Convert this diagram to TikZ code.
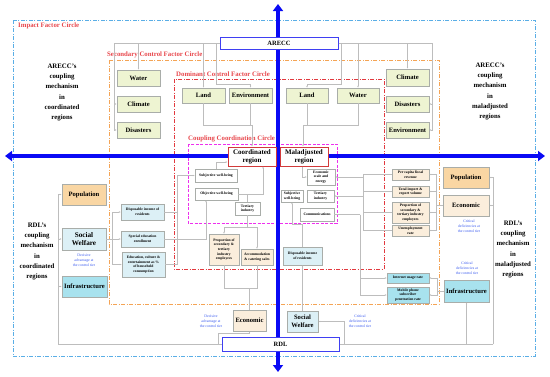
\documentclass[tikz,border=0pt]{standalone}
\usepackage{fontspec}
\setmainfont{Liberation Serif}
\usepackage{tikz}
\usetikzlibrary{arrows.meta}
\definecolor{AxisBlue}{HTML}{0A0AF5}
\definecolor{HubBlue}{HTML}{3F3FF2}
\definecolor{RegionRed}{HTML}{D23A3A}
\definecolor{LabelRed}{HTML}{E8474C}
\definecolor{ImpactBlue}{HTML}{5AAEE6}
\definecolor{SecOrange}{HTML}{F4A455}
\definecolor{DomRed}{HTML}{E23A3F}
\definecolor{CoupMagenta}{HTML}{EE30EE}
\definecolor{LineGray}{HTML}{BDBDBD}
\definecolor{BoxLine}{HTML}{A9ADA9}
\definecolor{Leaf}{HTML}{EEF4D2}
\definecolor{Peach}{HTML}{F9D6A3}
\definecolor{Cream}{HTML}{FBEEDC}
\definecolor{Mist}{HTML}{DCF0F6}
\definecolor{Aqua}{HTML}{A8E2EE}
\definecolor{NoteBlue}{HTML}{3A5BF0}

\begin{document}
\begin{tikzpicture}[x=1pt, y=-1pt,
    fbox/.style={draw=BoxLine, line width=0.6pt, align=center, inner sep=0.5pt, font=\bfseries\fontsize{6.6}{7.6}\selectfont},
    ind/.style={draw=BoxLine, line width=0.5pt, align=center, inner sep=0.3pt, fill=white, font=\bfseries\fontsize{3.7}{4.6}\selectfont},
    sz/.style 2 args={minimum width=#1pt, minimum height=#2pt},
    hub/.style={draw=HubBlue, line width=1pt, fill=white, inner sep=0pt, font=\bfseries\fontsize{6.5}{7}\selectfont},
    region/.style={draw=RegionRed, line width=1pt, fill=white, align=center, inner sep=0pt, font=\bfseries\fontsize{7}{8.2}\selectfont},
    side/.style={align=center, font=\bfseries\fontsize{6.8}{10.3}\selectfont},
    note/.style={align=center, text=NoteBlue, font=\fontsize{3.8}{5.2}\selectfont},
    circ/.style={anchor=west, inner sep=0pt, text=LabelRed, font=\bfseries\fontsize{6.8}{7}\selectfont},
    ring/.style={line width=0.8pt, dash pattern=on 4pt off 1.5pt on 1pt off 1.5pt},
    ln/.style={draw=LineGray, line width=0.7pt, -{Latex[length=1.8pt,width=1.6pt]}},
    lnp/.style={draw=LineGray, line width=0.7pt},
    mainaxis/.style={draw=AxisBlue, line width=4pt, {Triangle[length=7pt,width=10pt]}-{Triangle[length=7pt,width=10pt]}}
  ]
  \fill[white] (0,0) rectangle (550,376);
  \useasboundingbox (0,0) rectangle (550,376);

  % circles
  \draw[ring, ImpactBlue] (13,20) rectangle (535,356);
  \draw[ring, SecOrange] (109,60) rectangle (439,304);
  \draw[ring, DomRed, line width=1pt] (174,79) rectangle (384,269);
  \draw[CoupMagenta, line width=1pt, dash pattern=on 3pt off 1.5pt] (188,144) rectangle (337,223);
  \node[circ] (lbImpact) at (18,25.5) {Impact Factor Circle};
  \node[circ] (lbSecondary) at (107,55) {Secondary Control Factor Circle};
  \node[circ] (lbDominant) at (176,74) {Dominant Control Factor Circle};
  \node[circ] (lbCoupling) at (188,138.5) {Coupling Coordination Circle};

  % axes
  \coordinate (xW) at (5,156);
  \coordinate (xE) at (545,156);
  \coordinate (yN) at (278,4);
  \coordinate (yS) at (278,372);
  \draw[mainaxis] (xW) -- (xE);
  \draw[mainaxis] (yN) -- (yS);

  % hubs and regions
  \node[hub, sz={118}{12}] (arecc) at (279,43) {ARECC};
  \node[hub, sz={117}{14}] (rdl) at (280.5,344) {RDL};
  \node[region, sz={48}{19}] (coord) at (252,156.5) {Coordinated\\region};
  \node[region, sz={48}{19}] (mal) at (304,156.5) {Maladjusted\\region};

  % ARECC factors
  \node[fbox, fill=Leaf, sz={43}{16}] (waterL) at (138.5,78) {Water};
  \node[fbox, fill=Leaf, sz={43}{16}] (climateL) at (138.5,104) {Climate};
  \node[fbox, fill=Leaf, sz={43}{16}] (disastersL) at (138.5,130) {Disasters};
  \node[fbox, fill=Leaf, sz={43}{15}] (landL) at (203.5,95.5) {Land};
  \node[fbox, fill=Leaf, sz={43}{15}] (envL) at (250.5,95.5) {Environment};
  \node[fbox, fill=Leaf, sz={42}{15}] (landR) at (307,95.5) {Land};
  \node[fbox, fill=Leaf, sz={42}{15}] (waterR) at (358,95.5) {Water};
  \node[fbox, fill=Leaf, sz={43}{17}] (climateR) at (407.5,77.5) {Climate};
  \node[fbox, fill=Leaf, sz={43}{16}] (disastersR) at (407.5,104) {Disasters};
  \node[fbox, fill=Leaf, sz={43}{16}] (envR) at (407.5,130) {Environment};

  % RDL factors
  \node[fbox, fill=Peach, sz={44}{21}] (popL) at (84,194.5) {Population};
  \node[fbox, fill=Mist, sz={44}{22}, font=\bfseries\fontsize{7.2}{8.6}\selectfont] (socL) at (84,239) {Social\\Welfare};
  \node[fbox, fill=Aqua, sz={45}{21}] (infL) at (84.5,286.5) {Infrastructure};
  \node[fbox, fill=Cream, sz={33}{21}] (econL) at (249.5,320.5) {Economic};
  \node[fbox, fill=Mist, sz={31}{21}] (socR) at (302.5,321.5) {Social\\Welfare};
  \node[fbox, fill=Peach, sz={46}{21}] (popR) at (466,177.5) {Population};
  \node[fbox, fill=Cream, sz={46}{21}] (econR) at (466,205.5) {Economic};
  \node[fbox, fill=Aqua, sz={45}{22}] (infR) at (466.5,291) {Infrastructure};

  % indicators, coordinated side
  \node[ind, fill=Mist, sz={43}{16}] (dispL) at (142.5,212) {Disposable income of\\residents};
  \node[ind, fill=Mist, sz={43}{16}] (eduEnrL) at (142.5,239) {Special education\\enrollment};
  \node[ind, fill=Mist, sz={43}{25}] (eduConsL) at (143.5,264.5) {Education, culture \&\\entertainment as \%\\of household\\consumption};
  \node[ind, sz={42}{13}] (subjL) at (216,175.5) {Subjective well-being};
  \node[ind, sz={43}{12}] (objL) at (216.5,194) {Objective well-being};
  \node[ind, sz={25}{13}] (tertL) at (247.5,208.5) {Tertiary\\industry};
  \node[ind, fill=Cream, sz={30}{31}] (propL) at (224,249.5) {Proportion of\\secondary \&\\tertiary\\industry\\employees};
  \node[ind, fill=Cream, sz={32}{16}] (accL) at (257,257) {Accommodation\\\& catering sales};

  % indicators, maladjusted side
  \node[ind, sz={28}{16}] (econScaleR) at (321,177) {Economic\\scale and\\energy};
  \node[ind, sz={22}{12}] (subjR) at (292,196) {Subjective\\well-being};
  \node[ind, sz={27}{12}] (tertR) at (320.5,196) {Tertiary\\industry};
  \node[ind, sz={34}{13}] (commR) at (317,214.5) {Communications};
  \node[ind, fill=Mist, sz={39}{18}] (dispR) at (302.5,256) {Disposable income\\of residents};
  \node[ind, fill=Cream, sz={37}{11}] (fiscR) at (410.5,174.5) {Per capita fiscal\\revenue};
  \node[ind, fill=Cream, sz={37}{11}] (tradeR) at (410.5,191.5) {Total import \&\\export volume};
  \node[ind, fill=Cream, sz={37}{21}] (propR) at (410.5,212.5) {Proportion of\\secondary \&\\tertiary industry\\employees};
  \node[ind, fill=Cream, sz={37}{11}] (unempR) at (410.5,230.5) {Unemployment\\rate};
  \node[ind, fill=Aqua, sz={42}{10}] (netR) at (408,278) {Internet usage rate};
  \node[ind, fill=Aqua, sz={42}{16}] (mobR) at (408,295) {Mobile phone\\subscriber\\penetration rate};

  % side texts and notes
  \node[side] (txtAL) at (62,92.5) {ARECC's\\coupling\\mechanism\\in\\coordinated\\regions};
  \node[side] (txtAR) at (490,91.5) {ARECC's\\coupling\\mechanism\\in\\maladjusted\\regions};
  \node[side] (txtRL) at (37,251.5) {RDL's\\coupling\\mechanism\\in\\coordinated\\regions};
  \node[side] (txtRR) at (513,249.5) {RDL's\\coupling\\mechanism\\in\\maladjusted\\regions};
  \node[note] (ntL) at (84,260) {Decisive\\advantage at\\the control tier};
  \node[note] (ntE) at (211,321) {Decisive\\advantage at\\the control tier};
  \node[note] (ntS) at (360,321) {Critical\\deficiencies at\\the control tier};
  \node[note] (ntR1) at (469,226) {Critical\\deficiencies at\\the control tier};
  \node[note] (ntR2) at (467,268) {Critical\\deficiencies at\\the control tier};

  % ARECC links
  \coordinate (lbus) at (114,43);
  \coordinate (rbus) at (432,43);
  \coordinate (cjL) at (252,125);
  \coordinate (cjR) at (303,125);
  \draw[ln] (arecc.west) -| (waterL.north);
  \draw[ln] (arecc.west) -- (lbus) |- (climateL.west);
  \draw[ln] (lbus) |- (disastersL.west);
  \draw[ln] (arecc.west) -| (landL.north);
  \draw[ln] ([xshift=-3pt]arecc.west) |- ([yshift=3pt]envL.north) -- (envL.north);
  \draw[ln] (arecc.east) -| (climateR.north);
  \draw[ln] (arecc.east) -- (rbus) |- (disastersR.east);
  \draw[ln] (rbus) |- (envR.east);
  \draw[ln] (arecc.east) -| (waterR.north);
  \draw[ln] ([xshift=3pt]arecc.east) |- ([yshift=3pt]landR.north) -- (landR.north);
  \draw[ln] (landL.south) |- (cjL) -- (coord.north);
  \draw[lnp] (envL.south) -- (envL.south |- cjL);
  \draw[ln] (waterR.south) |- (cjR) -- (cjR |- mal.north);
  \draw[lnp] (landR.south) -- (landR.south |- cjR);

  % RDL links, coordinated side
  \coordinate (lrail) at (58,344);
  \coordinate (sbus) at (112,239);
  \coordinate (dj) at (177,212);
  \coordinate (tj) at (247.5,227);
  \coordinate (ej) at (249.5,288);
  \draw[lnp] (rdl.west) -- (lrail);
  \draw[ln] (lrail) |- (popL.west);
  \draw[ln] (lrail) |- (socL.west);
  \draw[ln] (lrail) |- (infL.west);
  \draw[ln] ([xshift=-3pt]rdl.west) |- ([yshift=-2pt]econL.south) -- (econL.south);
  \draw[lnp] (socL.east) -- (sbus);
  \draw[ln] (sbus) |- (dispL.west);
  \draw[ln] (sbus) -- (eduEnrL.west);
  \draw[ln] (sbus) |- (eduConsL.west);
  \draw[ln] (dispL.east) -- (dj) |- (subjL.west);
  \draw[lnp] (eduConsL.east) -| (dj);
  \draw[ln] (eduEnrL.east) -| ([xshift=-10.5pt]objL.south);
  \draw[ln] (subjL.north) |- ([yshift=-5.5pt]coord.west);
  \draw[ln] (objL.east) -| ([xshift=11pt]coord.south);
  \draw[lnp] (tertL.north) -- (tertL.north |- objL.east);
  \draw[lnp] (tertL.south) -- (tj);
  \draw[ln] (tj) -| (propL.north);
  \draw[ln] (tj) -| (accL.north);
  \draw[lnp] (propL.south) |- (ej);
  \draw[lnp] (accL.south) |- (ej);
  \draw[lnp] (econL.north) -- (ej);

  % RDL links, maladjusted side
  \coordinate (rrail) at (493,344);
  \coordinate (sj) at (302.5,224);
  \coordinate (ebus) at (436,205.5);
  \coordinate (ib) at (363,177);
  \coordinate (cb) at (360,214.5);
  \coordinate (nb) at (437,291);
  \draw[lnp] (rdl.east) -- (rrail);
  \draw[ln] (rrail) |- (popR.east);
  \draw[ln] (rrail) |- (econR.east);
  \draw[ln] (infR.south |- rrail) -- (infR.south);
  \draw[ln] ([xshift=5pt]rdl.east) |- (socR.east);
  \draw[ln] (socR.north) -- (dispR.south);
  \draw[ln] (dispR.north) -- (sj) -| (subjR.south);
  \draw[ln] ([xshift=-2pt]mal.south) |- (econScaleR.west);
  \draw[lnp] (econR.west) -- (ebus);
  \draw[ln] (ebus) |- (fiscR.east);
  \draw[ln] (ebus) |- (tradeR.east);
  \draw[ln] (ebus) |- (propR.east);
  \draw[ln] (ebus) |- (unempR.east);
  \draw[ln] (fiscR.west) -| (ib) -- (econScaleR.east);
  \draw[lnp] (tradeR.west) -| (ib);
  \draw[lnp] (propR.west) -| (ib);
  \draw[lnp] (unempR.west) -| (ib);
  \draw[ln] (ib |- tertR.east) -- (tertR.east);
  \draw[lnp] (commR.east) -- (cb);
  \draw[ln] (cb) |- (netR.west);
  \draw[ln] (cb) |- (mobR.west);
  \draw[lnp] (infR.west) -- (nb);
  \draw[ln] (nb) |- (netR.east);
  \draw[ln] (nb) |- (mobR.east);
\end{tikzpicture}
\end{document}
